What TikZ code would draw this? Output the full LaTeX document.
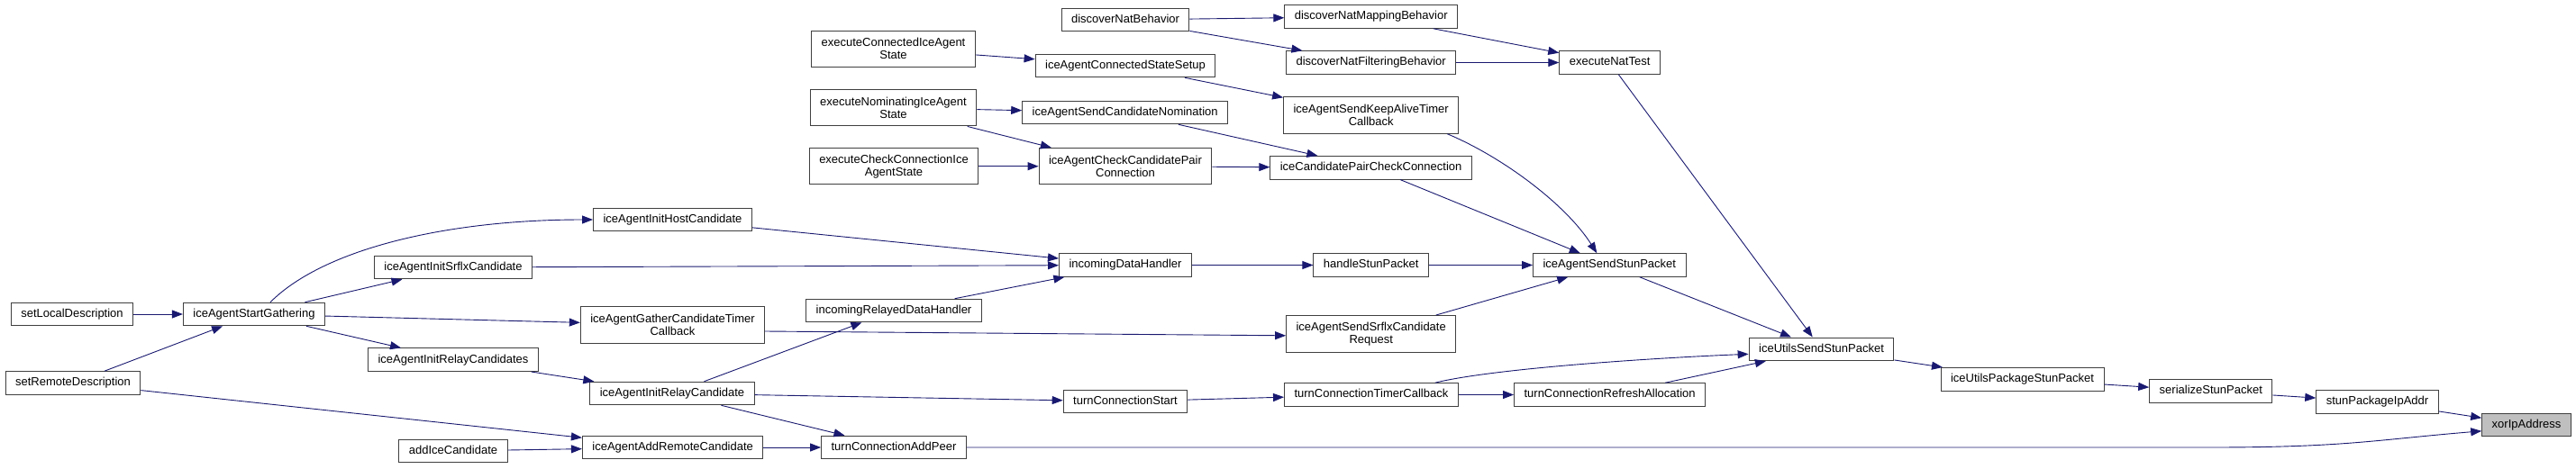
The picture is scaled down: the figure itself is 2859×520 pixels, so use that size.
\documentclass[tikz,border=0pt]{standalone}
\usepackage{fontspec}
\setmainfont{Liberation Sans}
\usepackage{tikz}
\usetikzlibrary{arrows.meta}
\definecolor{edgeblue}{HTML}{191970}
\definecolor{boxdraw}{HTML}{404040}
\definecolor{hlfill}{HTML}{BFBFBF}
\tikzset{
  blk/.style={rectangle, draw=boxdraw, fill=white, line width=1pt, align=center, font=\fontsize{13}{14}\selectfont, inner xsep=11pt, inner ysep=2pt},
  fn/.style={blk, minimum height=25.6pt, text height=9.4pt, text depth=2.7pt},
  fntwo/.style={blk, minimum height=40.5pt},
  hl/.style={fn, fill=hlfill},
  arr/.style={-{Triangle[length=12pt, width=9pt]}, line width=0.9pt, draw=edgeblue},
}

\begin{document}
\begin{tikzpicture}[x=1pt, y=-1pt]
  \useasboundingbox (0,0) rectangle (2859,520);
  % callers on the left
  \node[fn] (setlocal) at (80,349) {setLocalDescription};
  \node[fn] (setremote) at (81,425.5) {setRemoteDescription};
  \node[fn] (startgath) at (282,349) {iceAgentStartGathering};
  \node[fn] (initsrflx) at (503,297) {iceAgentInitSrflxCandidate};
  \node[fn] (initrelays) at (503,399.7) {iceAgentInitRelayCandidates};
  \node[fn] (addice) at (503,501) {addIceCandidate};
  \node[fn] (inithost) at (746.5,244) {iceAgentInitHostCandidate};
  \node[fntwo] (gathertimer) at (746.5,361) {iceAgentGatherCandidateTimer\\Callback};
  \node[fn] (initrelay) at (746,437) {iceAgentInitRelayCandidate};
  \node[fn] (addremote) at (746.7,497) {iceAgentAddRemoteCandidate};
  \node[fntwo] (exconn) at (991.5,54.3) {executeConnectedIceAgent\\State};
  \node[fntwo] (exnom) at (991.5,119.7) {executeNominatingIceAgent\\State};
  \node[fntwo] (excheck) at (992,184.7) {executeCheckConnectionIce\\AgentState};
  \node[fn] (inrelayed) at (992,345) {incomingRelayedDataHandler};
  \node[fn] (addpeer) at (992,497) {turnConnectionAddPeer};
  \node[fn] (natbeh) at (1249,22) {discoverNatBehavior};
  \node[fn] (connsetup) at (1249,73) {iceAgentConnectedStateSetup};
  \node[fn] (sendnom) at (1248.7,125) {iceAgentSendCandidateNomination};
  \node[fntwo] (checkpair) at (1249,184.7) {iceAgentCheckCandidatePair\\Connection};
  \node[fn] (indata) at (1249,294.5) {incomingDataHandler};
  \node[fn] (turnstart) at (1249,446) {turnConnectionStart};
  \node[fn] (natmap) at (1521.7,18.5) {discoverNatMappingBehavior};
  \node[fn] (natfilt) at (1521.7,69.5) {discoverNatFilteringBehavior};
  \node[fntwo] (keepalive) at (1521.7,128) {iceAgentSendKeepAliveTimer\\Callback};
  \node[fn] (pairchk) at (1521.6,186.3) {iceCandidatePairCheckConnection};
  \node[fn] (handlestun) at (1521.7,294.5) {handleStunPacket};
  \node[fntwo] (srflxreq) at (1521.7,370.8) {iceAgentSendSrflxCandidate\\Request};
  \node[fn] (timercb) at (1521.9,438.5) {turnConnectionTimerCallback};
  \node[fn] (natest) at (1786.6,69.5) {executeNatTest};
  \node[fn] (sendstun) at (1786.3,294.5) {iceAgentSendStunPacket};
  \node[fn] (refresh) at (1786.6,438.5) {turnConnectionRefreshAllocation};
  \node[fn] (utilsend) at (2021.5,387.8) {iceUtilsSendStunPacket};
  \node[fn] (utilpack) at (2244.5,421.3) {iceUtilsPackageStunPacket};
  \node[fn] (serialize) at (2453.8,434.5) {serializeStunPacket};
  \node[fn] (pkgip) at (2638.5,446.5) {stunPackageIpAddr};
  \node[hl] (xorip) at (2804,471.8) {xorIpAddress};

  % calls
  \draw[arr] (setlocal) -- (startgath);
  \draw[arr] (setremote) -- (startgath);
  \draw[arr] (setremote) -- (addremote);
  \draw[arr] (addice) -- (addremote);
  \draw[arr] ([xshift=18pt]startgath.north) .. controls +(60,-60) and +(-160,0) .. (inithost.west);
  \draw[arr] (startgath) -- (initsrflx);
  \draw[arr] (startgath) -- (gathertimer);
  \draw[arr] (startgath) -- (initrelays);
  \draw[arr] (initrelays) -- (initrelay);
  \draw[arr] (inithost) -- (indata);
  \draw[arr] (initsrflx) -- (indata);
  \draw[arr] ([yshift=-7pt]gathertimer.east) -- ([yshift=-2pt]srflxreq.west);
  \draw[arr] (initrelay) -- (inrelayed);
  \draw[arr] (initrelay) -- (turnstart);
  \draw[arr] (initrelay) -- (addpeer);
  \draw[arr] (addremote) -- (addpeer);
  \draw[arr] (inrelayed) -- (indata);
  \draw[arr] (indata) -- (handlestun);
  \draw[arr] (turnstart) -- (timercb);
  \draw[arr] (addpeer.east) -- ++(1380,0) .. controls +(150,0) and +(-120,10) .. ([yshift=-7pt]xorip.west);
  \draw[arr] (exconn) -- (connsetup);
  \draw[arr] (exnom) -- (sendnom);
  \draw[arr] (exnom) -- (checkpair);
  \draw[arr] (excheck) -- (checkpair);
  \draw[arr] (natbeh) -- (natmap);
  \draw[arr] (natbeh) -- (natfilt);
  \draw[arr] (connsetup) -- (keepalive);
  \draw[arr] (sendnom) -- (pairchk);
  \draw[arr] (checkpair) -- (pairchk);
  \draw[arr] (natmap) -- (natest);
  \draw[arr] (natfilt) -- (natest);
  \draw[arr] (natest) -- (utilsend);
  \draw[arr] ([xshift=-13pt]keepalive.south east) .. controls +(60,25) and +(-35,-55) .. ([xshift=-14pt]sendstun.north);
  \draw[arr] (pairchk) -- (sendstun);
  \draw[arr] (handlestun) -- (sendstun);
  \draw[arr] (srflxreq) -- (sendstun);
  \draw[arr] (sendstun) -- (utilsend);
  \draw[arr] ([xshift=-26pt]timercb.north east) .. controls +(60,-15) and +(-120,5) .. ([yshift=-5.5pt]utilsend.west);
  \draw[arr] (timercb) -- (refresh);
  \draw[arr] (refresh) -- (utilsend);
  \draw[arr] (utilsend) -- (utilpack);
  \draw[arr] (utilpack) -- (serialize);
  \draw[arr] (serialize) -- (pkgip);
  \draw[arr] (pkgip) -- (xorip);
\end{tikzpicture}
\end{document}
